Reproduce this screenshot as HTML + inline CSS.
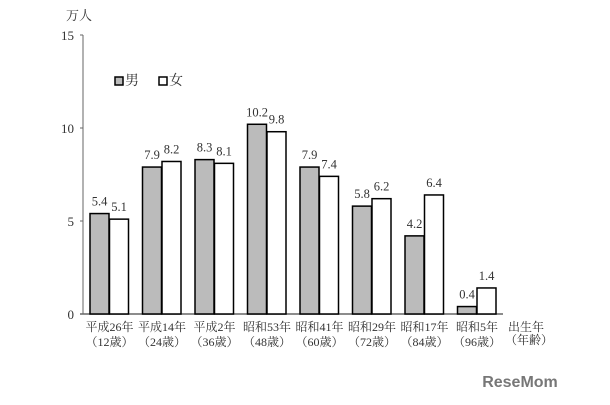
<!DOCTYPE html><html><head><meta charset="utf-8"><style>body{margin:0;background:#fff}</style></head><body>
<svg width="610" height="400" xmlns="http://www.w3.org/2000/svg" font-family="Liberation Serif, Noto Serif CJK SC, serif" fill="#333">
<text x="66" y="20" font-size="13">万人</text>
<g font-size="13" text-anchor="end"><text x="74" y="40">15</text><text x="74" y="133">10</text><text x="74" y="226">5</text><text x="74" y="319">0</text></g>
<line x1="83" y1="35" x2="83" y2="314" stroke="#666"/>
<g stroke="#666"><line x1="80" y1="35" x2="83" y2="35"/><line x1="80" y1="128" x2="83" y2="128"/><line x1="80" y1="221" x2="83" y2="221"/></g>
<line x1="80" y1="314" x2="503" y2="314" stroke="#666" stroke-width="1.5"/>
<rect x="115" y="77" width="8" height="8" fill="#bbb" stroke="#000" stroke-width="1.5"/><text x="125" y="85" font-size="14">男</text>
<rect x="159" y="77" width="8" height="8" fill="#fff" stroke="#000" stroke-width="1.5"/><text x="169" y="85" font-size="14">女</text>
<g id="bars" stroke="#000" stroke-width="1.5"></g>
<g id="lab" font-size="12.5" text-anchor="middle"></g>
<g font-size="12" text-anchor="middle" id="xl"></g>
<text x="508" y="331" font-size="12">出生年</text><text x="505" y="344" font-size="12">（年齢）</text>
<text x="520" y="387" font-size="16" font-weight="bold" font-family="Liberation Sans, sans-serif" fill="#777" text-anchor="middle">ReseMom</text>
</svg>
<script>
var m=[5.4,7.9,8.3,10.2,7.9,5.8,4.2,0.4],f=[5.1,8.2,8.1,9.8,7.4,6.2,6.4,1.4];
var t=["平成26年","平成14年","平成2年","昭和53年","昭和41年","昭和29年","昭和17年","昭和5年"],a=["12","24","36","48","60","72","84","96"];
var b="",l="",x="";
for(var i=0;i<8;i++){var x0=90+52.5*i,hm=m[i]*18.6,hf=f[i]*18.6;
b+='<rect x="'+x0+'" y="'+(314-hm)+'" width="19" height="'+hm+'" fill="#bbb"/><rect x="'+(x0+19.5)+'" y="'+(314-hf)+'" width="19" height="'+hf+'" fill="#fff"/>';
l+='<text x="'+(x0+9.5)+'" y="'+(314-hm-8)+'">'+m[i].toFixed(1)+'</text><text x="'+(x0+29)+'" y="'+(314-hf-8)+'">'+f[i].toFixed(1)+'</text>';
x+='<text x="'+(x0+19.5)+'" y="331">'+t[i]+'</text><text x="'+(x0+19.5)+'" y="346">（'+a[i]+'歳）</text>';}
document.getElementById("bars").innerHTML=b;document.getElementById("lab").innerHTML=l;document.getElementById("xl").innerHTML=x;
</script>
</body></html>
